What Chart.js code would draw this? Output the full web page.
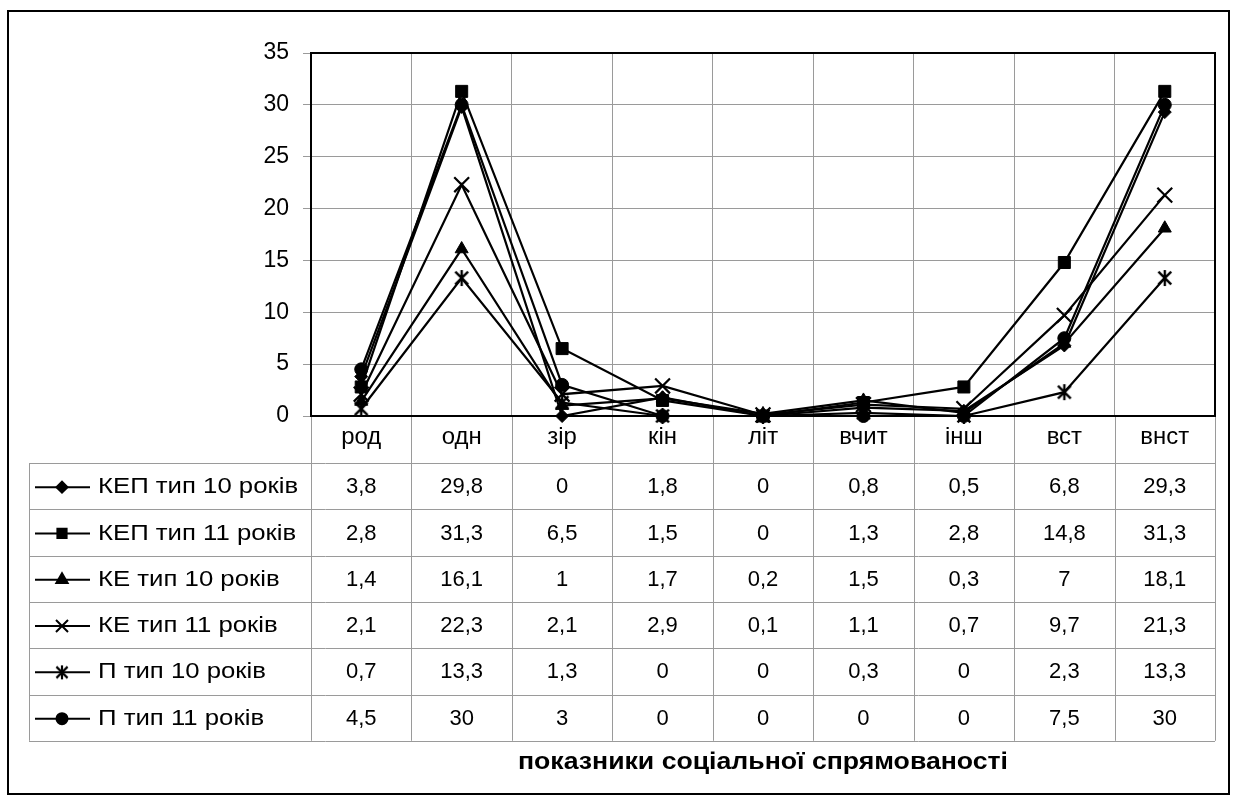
<!DOCTYPE html>
<html>
<head>
<meta charset="utf-8">
<script src="https://cdn.jsdelivr.net/npm/chart.js@4/dist/chart.umd.min.js"></script>
<style>
  html, body { margin: 0; padding: 0; background: #fff; }
  #wrap { width: 1237px; height: 803px; }
</style>
</head>
<body>
<div id="wrap"><canvas id="chart" width="1237" height="803"></canvas></div>
<script>
// категорії (показники)
const categories = ['род', 'одн', 'зір', 'кін', 'літ', 'вчит', 'інш', 'вст', 'внст'];

// серії
const seriesNames = ['КЕП тип 10 років', 'КЕП тип 11 років', 'КЕ тип 10 років', 'КЕ тип 11 років', 'П тип 10 років', 'П тип 11 років'];
const kep10 = [3.8, 29.8, 0, 1.8, 0, 0.8, 0.5, 6.8, 29.3];
const kep11 = [2.8, 31.3, 6.5, 1.5, 0, 1.3, 2.8, 14.8, 31.3];
const ke10 = [1.4, 16.1, 1, 1.7, 0.2, 1.5, 0.3, 7, 18.1];
const ke11 = [2.1, 22.3, 2.1, 2.9, 0.1, 1.1, 0.7, 9.7, 21.3];
const p10 = [0.7, 13.3, 1.3, 0, 0, 0.3, 0, 2.3, 13.3];
const p11 = [4.5, 30, 3, 0, 0, 0, 0, 7.5, 30];
const seriesValues = [kep10, kep11, ke10, ke11, p10, p11];

const yTicks = [0, 5, 10, 15, 20, 25, 30, 35];
const xTitle = 'показники соціальної спрямованості';

const FONT = '"Liberation Sans", Arial, sans-serif';
const GRID = '#9a9a9a';

// розміри таблиці даних під графіком
const tableLeft = 29;
const tableTop = 463;
const rowH = 46.3;

function fmt(v) {
    return String(v).replace('.', ',');
}

// зірочка як у Excel: хрест + вертикальна риска
function asterisk(size, lw) {
    const c = document.createElement('canvas');
    c.width = size; c.height = size;
    const g = c.getContext('2d');
    const h = size / 2, r = h - 1;
    g.strokeStyle = '#000';
    g.lineWidth = lw;
    g.beginPath();
    g.moveTo(h - r * 0.8, h - r * 0.8); g.lineTo(h + r * 0.8, h + r * 0.8);
    g.moveTo(h + r * 0.8, h - r * 0.8); g.lineTo(h - r * 0.8, h + r * 0.8);
    g.moveTo(h, h - r); g.lineTo(h, h + r);
    g.stroke();
    return c;
}

const starBig = asterisk(18, 2.4);
const starSmall = asterisk(16, 2.2);

const markers = ['rectRot', 'rect', 'triangle', 'crossRot', starBig, 'circle'];
const legendMarkers = ['rectRot', 'rect', 'triangle', 'crossRot', starSmall, 'circle'];
const radii = [6.5, 8.5, 7.5, 10.5, 9, 6.5];
const legendRadii = [5.5, 6.5, 6.5, 8.5, 8, 5.5];

const datasets = seriesValues.map((vals, i) => ({
    label: seriesNames[i],
    data: vals,
    borderColor: '#000',
    backgroundColor: '#000',
    borderWidth: 2.2,
    pointStyle: markers[i],
    pointRadius: radii[i],
    pointBorderWidth: i === 3 ? 2.2 : 1,
    pointBackgroundColor: '#000',
    pointBorderColor: '#000',
    tension: 0,
    clip: false
}));

// текст із горизонтальним розтягуванням
function stretchText(ctx, text, x, y, sx) {
    ctx.save();
    ctx.translate(x, y);
    ctx.scale(sx, 1);
    ctx.fillText(text, 0, 0);
    ctx.restore();
}

// рамка, таблиця даних, підпис осі
const tablePlugin = {
    id: 'dataTable',
    beforeDraw(chart) {
        const ctx = chart.ctx;
        ctx.save();
        ctx.fillStyle = '#fff';
        ctx.fillRect(0, 0, chart.width, chart.height);
        ctx.restore();
    },
    afterDraw(chart) {
        const ctx = chart.ctx;
        const area = chart.chartArea;
        const x = chart.scales.x;
        const tableBottom = tableTop + rowH * seriesNames.length;
        const step = (area.right - area.left) / categories.length;

        ctx.save();
        // сітка таблиці
        ctx.strokeStyle = GRID;
        ctx.lineWidth = 1;
        ctx.beginPath();
        for (let k = 0; k <= categories.length; k++) {
            const xx = Math.round(area.left + k * step) + 0.5;
            ctx.moveTo(xx, area.bottom);
            ctx.lineTo(xx, tableBottom);
        }
        for (let r = 0; r <= seriesNames.length; r++) {
            const yy = Math.round(tableTop + r * rowH) + 0.5;
            ctx.moveTo(tableLeft, yy);
            ctx.lineTo(area.right, yy);
        }
        ctx.moveTo(tableLeft + 0.5, tableTop);
        ctx.lineTo(tableLeft + 0.5, tableBottom);
        ctx.stroke();

        // рамка області побудови
        ctx.strokeStyle = '#000';
        ctx.lineWidth = 2;
        ctx.strokeRect(area.left, area.top, area.right - area.left, area.bottom - area.top);

        // зовнішня рамка
        ctx.strokeRect(8, 11, 1221, 783);

        ctx.fillStyle = '#000';
        ctx.textBaseline = 'middle';
        ctx.font = '23px ' + FONT;
        ctx.textAlign = 'center';
        categories.forEach((c, i) => {
            stretchText(ctx, c, x.getPixelForValue(i), 438, 1.04);
        });

        seriesNames.forEach((name, r) => {
            const cy = tableTop + r * rowH + rowH / 2 + 1;
            // значення
            ctx.font = '22px ' + FONT;
            ctx.textAlign = 'center';
            seriesValues[r].forEach((v, i) => {
                ctx.fillText(fmt(v), x.getPixelForValue(i), cy);
            });
            // легенда
            ctx.strokeStyle = '#000';
            ctx.lineWidth = 2;
            ctx.beginPath();
            ctx.moveTo(35, cy);
            ctx.lineTo(90, cy);
            ctx.stroke();
            Chart.helpers.drawPoint(ctx, {
                pointStyle: legendMarkers[r],
                radius: legendRadii[r],
                borderWidth: r === 3 ? 2 : 1,
                rotation: 0
            }, 62, cy);
            ctx.fillStyle = '#000';
            ctx.textAlign = 'left';
            stretchText(ctx, name, 98, cy, 1.17);
        });

        ctx.font = 'bold 24px ' + FONT;
        ctx.textAlign = 'center';
        stretchText(ctx, xTitle, 763, 762, 1.11);
        ctx.restore();
    }
};

const ctx = document.getElementById('chart').getContext('2d');
const chart = new Chart(ctx, {
    type: 'line',
    data: { labels: categories, datasets: datasets },
    options: {
        responsive: false,
        animation: false,
        devicePixelRatio: 1,
        layout: { padding: { top: 53, right: 22, bottom: 387, left: 0 } },
        plugins: {
            legend: { display: false },
            tooltip: { enabled: false }
        },
        scales: {
            x: {
                type: 'category',
                offset: true,
                grid: { offset: true, color: GRID, lineWidth: 1, drawTicks: false },
                border: { display: false },
                ticks: { display: false },
                afterFit(scale) { scale.height = 0; }
            },
            y: {
                min: 0,
                max: 35,
                afterBuildTicks(scale) { scale.ticks = yTicks.map(v => ({ value: v })); },
                grid: { color: GRID, lineWidth: 1, tickLength: 8 },
                border: { display: false },
                ticks: {
                    color: '#000',
                    padding: 14,
                    font: { family: FONT, size: 23 }
                },
                afterFit(scale) { scale.width = 311; }
            }
        }
    },
    plugins: [tablePlugin]
});
</script>
</body>
</html>
